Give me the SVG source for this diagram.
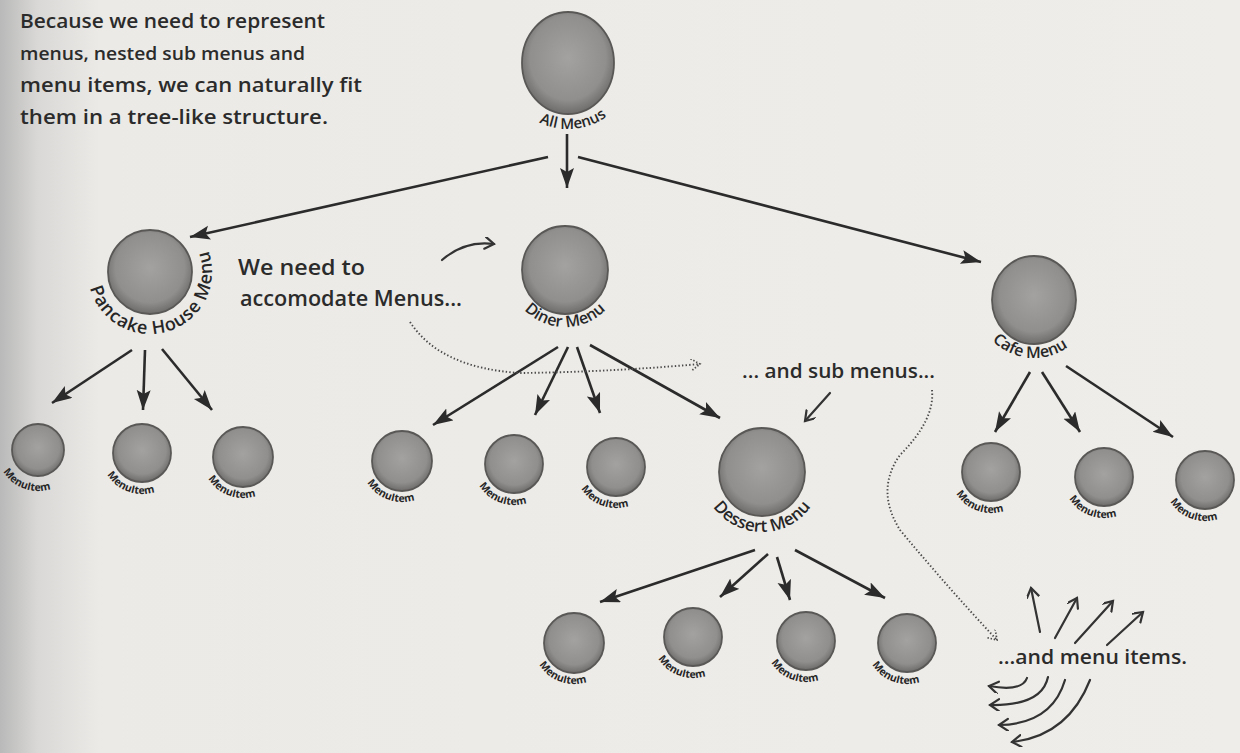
<svg xmlns="http://www.w3.org/2000/svg" width="1240" height="753" viewBox="0 0 1240 753">
<style>
.hand{font-family:"Open Sans","Liberation Sans",sans-serif;fill:#2b2b2b;font-weight:600;}
.lbl{font-family:"Open Sans","Liberation Sans",sans-serif;fill:#262626;font-weight:600;}
.mi{font-family:"Open Sans","Liberation Sans",sans-serif;fill:#262626;font-size:10.5px;font-weight:700;}
.ball{fill:url(#ballg);stroke:#5a5856;stroke-width:1.8;}
.arr{stroke:#2b2b2b;stroke-width:2.6;fill:none;marker-end:url(#tri);}
.hnd{stroke:#333;stroke-width:2.2;fill:none;stroke-linecap:round;marker-end:url(#chev);}
.dot{stroke:#4a4a4a;stroke-width:1.9;fill:none;stroke-dasharray:1.4 2.2;marker-end:url(#dchev);}
</style>
<defs>
<linearGradient id="page" x1="0" y1="0" x2="1" y2="0">
<stop offset="0" stop-color="#b9b9b9"/>
<stop offset="0.03" stop-color="#d9d8d6"/>
<stop offset="0.08" stop-color="#ebeae7"/>
<stop offset="1" stop-color="#efede9"/>
</linearGradient>
<radialGradient id="ballg" cx="0.5" cy="0.45" r="0.55">
<stop offset="0" stop-color="#a4a2a0"/>
<stop offset="0.75" stop-color="#918f8e"/>
<stop offset="1" stop-color="#6e6c6a"/>
</radialGradient>
<marker id="tri" markerUnits="userSpaceOnUse" markerWidth="22" markerHeight="16" refX="20" refY="7" orient="auto">
<path d="M0,0 L20,7 L0,14 L4,7 z" fill="#2b2b2b"/>
</marker>
<marker id="chev" markerUnits="userSpaceOnUse" markerWidth="16" markerHeight="16" refX="10" refY="6" orient="auto">
<path d="M1,0 L10,6 L1,12" fill="none" stroke="#333" stroke-width="2.2" stroke-linecap="round"/>
</marker>
<marker id="dchev" markerUnits="userSpaceOnUse" markerWidth="16" markerHeight="16" refX="10" refY="6" orient="auto">
<path d="M1,0 L10,6 L1,12" fill="none" stroke="#4a4a4a" stroke-width="1.7" stroke-dasharray="1.4 1.8"/>
</marker>
<path id="miarc" d="M-40.38,7.12 A41,41 0 0 0 26.35,31.41"/>
<path id="arcAll" d="M537,121.3 A66,66 0 0 0 608.6,115"/>
<path id="arcPan" d="M90.11,288.05 A62,62 0 1 0 202.6,239.2"/>
<path id="arcDin" d="M520.08,305.09 A57,57 0 0 0 609.92,305.09"/>
<path id="arcCafe" d="M986.49,333.27 A58,58 0 0 0 1075.01,341.01"/>
<path id="arcDes" d="M707.62,497.36 A60,60 0 0 0 816.38,497.36"/>
</defs>

<rect x="0" y="0" width="1240" height="753" fill="url(#page)"/>

<g id="note-top">
<text class="hand" font-size="19" x="20" y="28" textLength="305" lengthAdjust="spacingAndGlyphs">Because we need to represent</text>
<text class="hand" font-size="18" x="20" y="60" textLength="285" lengthAdjust="spacingAndGlyphs">menus, nested sub menus and</text>
<text class="hand" font-size="19" x="20" y="92" textLength="342" lengthAdjust="spacingAndGlyphs">menu items, we can naturally fit</text>
<text class="hand" font-size="19" x="20" y="124" textLength="308" lengthAdjust="spacingAndGlyphs">them in a tree-like structure.</text>
</g>

<g id="connectors">
<line class="arr" x1="548" y1="157" x2="190" y2="237"/>
<line class="arr" x1="567" y1="134" x2="567" y2="188"/>
<line class="arr" x1="578" y1="157" x2="981" y2="262"/>
<line class="arr" x1="132" y1="350" x2="52" y2="403"/>
<line class="arr" x1="145" y1="350" x2="143" y2="410"/>
<line class="arr" x1="162" y1="349" x2="212" y2="410"/>
<line class="arr" x1="558" y1="347" x2="433" y2="425"/>
<line class="arr" x1="568" y1="347" x2="535" y2="415"/>
<line class="arr" x1="577" y1="347" x2="600" y2="413"/>
<line class="arr" x1="590" y1="345" x2="720" y2="418"/>
<line class="arr" x1="1030" y1="372" x2="995" y2="432"/>
<line class="arr" x1="1042" y1="372" x2="1080" y2="432"/>
<line class="arr" x1="1066" y1="366" x2="1173" y2="437"/>
<line class="arr" x1="755" y1="550" x2="600" y2="602"/>
<line class="arr" x1="768" y1="554" x2="720" y2="597"/>
<line class="arr" x1="777" y1="557" x2="790" y2="600"/>
<line class="arr" x1="795" y1="550" x2="885" y2="598"/>
</g>

<g id="node-all-menus">
<ellipse class="ball" cx="568" cy="63" rx="46" ry="51"/>
<text class="lbl" style="font-size:15px"><textPath href="#arcAll" startOffset="50%" text-anchor="middle">All Menus</textPath></text>
</g>
<g id="node-pancake">
<circle class="ball" cx="150" cy="272" r="42"/>
<text class="lbl" style="font-size:18px"><textPath href="#arcPan" textLength="200" lengthAdjust="spacing">Pancake House Menu</textPath></text>
</g>
<g id="node-diner">
<ellipse class="ball" cx="565" cy="270" rx="43" ry="44"/>
<text class="lbl" style="font-size:16px"><textPath href="#arcDin" startOffset="50%" text-anchor="middle">Diner Menu</textPath></text>
</g>
<g id="node-cafe">
<ellipse class="ball" cx="1034" cy="300" rx="42" ry="44"/>
<text class="lbl" style="font-size:16px"><textPath href="#arcCafe" startOffset="50%" text-anchor="middle">Cafe Menu</textPath></text>
</g>
<g id="node-dessert">
<ellipse class="ball" cx="762" cy="472" rx="43" ry="44"/>
<text class="lbl" style="font-size:17px"><textPath href="#arcDes" startOffset="50%" text-anchor="middle">Dessert Menu</textPath></text>
</g>

<g id="item-p1" transform="translate(38,450)"><circle class="ball" r="26"/><text class="mi"><textPath href="#miarc" startOffset="50%" text-anchor="middle">MenuItem</textPath></text></g>
<g id="item-p2" transform="translate(142,453)"><circle class="ball" r="29"/><text class="mi"><textPath href="#miarc" startOffset="50%" text-anchor="middle">MenuItem</textPath></text></g>
<g id="item-p3" transform="translate(243,457)"><circle class="ball" r="30"/><text class="mi"><textPath href="#miarc" startOffset="50%" text-anchor="middle">MenuItem</textPath></text></g>
<g id="item-d1" transform="translate(402,461)"><circle class="ball" r="30"/><text class="mi"><textPath href="#miarc" startOffset="50%" text-anchor="middle">MenuItem</textPath></text></g>
<g id="item-d2" transform="translate(514,464)"><circle class="ball" r="29"/><text class="mi"><textPath href="#miarc" startOffset="50%" text-anchor="middle">MenuItem</textPath></text></g>
<g id="item-d3" transform="translate(616,467)"><circle class="ball" r="29"/><text class="mi"><textPath href="#miarc" startOffset="50%" text-anchor="middle">MenuItem</textPath></text></g>
<g id="item-c1" transform="translate(991,472)"><circle class="ball" r="29"/><text class="mi"><textPath href="#miarc" startOffset="50%" text-anchor="middle">MenuItem</textPath></text></g>
<g id="item-c2" transform="translate(1104,477)"><circle class="ball" r="29"/><text class="mi"><textPath href="#miarc" startOffset="50%" text-anchor="middle">MenuItem</textPath></text></g>
<g id="item-c3" transform="translate(1205,480)"><circle class="ball" r="29"/><text class="mi"><textPath href="#miarc" startOffset="50%" text-anchor="middle">MenuItem</textPath></text></g>
<g id="item-s1" transform="translate(574,643)"><circle class="ball" r="30"/><text class="mi"><textPath href="#miarc" startOffset="50%" text-anchor="middle">MenuItem</textPath></text></g>
<g id="item-s2" transform="translate(693,637)"><circle class="ball" r="29"/><text class="mi"><textPath href="#miarc" startOffset="50%" text-anchor="middle">MenuItem</textPath></text></g>
<g id="item-s3" transform="translate(806,641)"><circle class="ball" r="29"/><text class="mi"><textPath href="#miarc" startOffset="50%" text-anchor="middle">MenuItem</textPath></text></g>
<g id="item-s4" transform="translate(907,643)"><circle class="ball" r="29"/><text class="mi"><textPath href="#miarc" startOffset="50%" text-anchor="middle">MenuItem</textPath></text></g>

<g id="note-menus">
<text class="hand" font-size="22" x="238" y="275" textLength="127" lengthAdjust="spacingAndGlyphs">We need to</text>
<text class="hand" font-size="22" x="240" y="306" textLength="222" lengthAdjust="spacingAndGlyphs">accomodate Menus...</text>
<path class="hnd" d="M442,260 Q465,240 494,244"/>
<path class="dot" d="M410,322 Q440,368 520,373 Q610,372 700,364"/>
</g>

<g id="note-sub">
<text class="hand" font-size="19" x="742" y="378" textLength="193" lengthAdjust="spacingAndGlyphs">... and sub menus...</text>
<path class="hnd" d="M830,393 L805,421"/>
<path class="dot" d="M932,390 Q935,420 900,455 Q875,490 900,530 Q950,590 997,640"/>
</g>

<g id="note-items">
<text class="hand" font-size="20" x="998" y="664" textLength="189" lengthAdjust="spacingAndGlyphs">...and menu items.</text>
<path class="hnd" d="M1040,632 L1031,588"/>
<path class="hnd" d="M1055,638 L1077,598"/>
<path class="hnd" d="M1075,643 L1113,601"/>
<path class="hnd" d="M1107,645 L1143,612"/>
<path class="hnd" d="M1027,678 Q1022,692 989,686"/>
<path class="hnd" d="M1048,677 Q1042,706 990,705"/>
<path class="hnd" d="M1065,680 Q1052,724 999,725"/>
<path class="hnd" d="M1090,680 Q1068,736 1012,742"/>
</g>
</svg>
